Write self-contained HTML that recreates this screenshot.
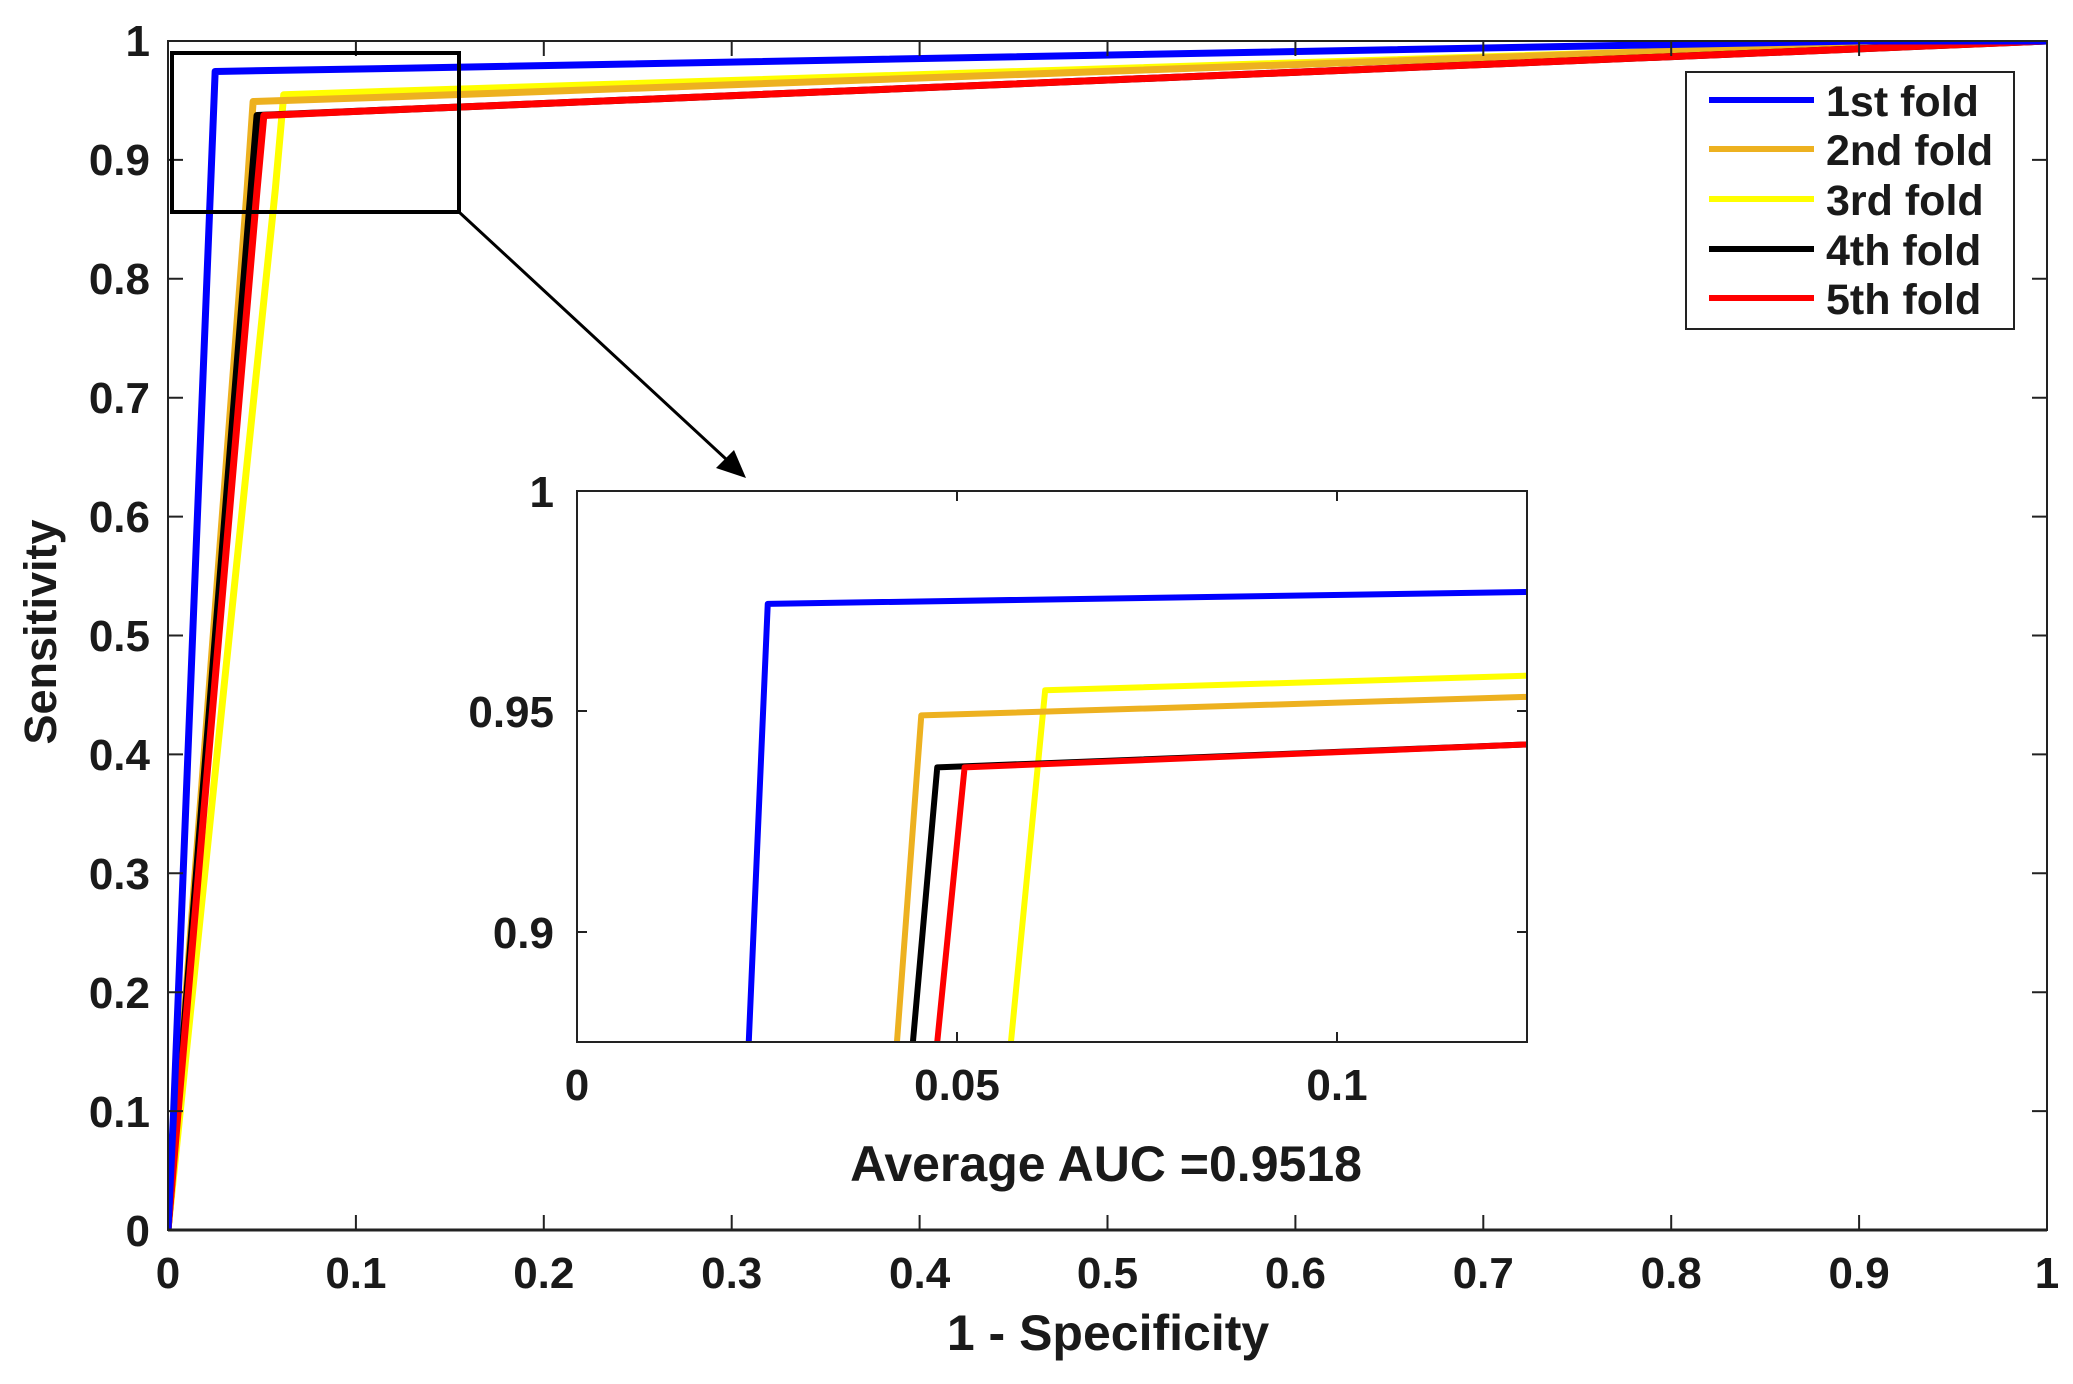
<!DOCTYPE html>
<html><head><style>
html,body{margin:0;padding:0;background:#fff;}
svg text{font-family:"Liberation Sans",Arial,sans-serif;font-weight:bold;fill:#1a1a1a;}
</style></head><body>
<svg width="2073" height="1379" xmlns="http://www.w3.org/2000/svg">
<rect width="2073" height="1379" fill="#fff"/>
<svg x="168" y="41" width="1879" height="1189" viewBox="0 -1 1 1" preserveAspectRatio="none" overflow="hidden">
 <g fill="none" stroke-linejoin="round">
  <polyline vector-effect="non-scaling-stroke" stroke-width="7" stroke="#ffff00" points="0,0 0.0571,-0.875 0.0616,-0.9548 0.125,-0.9581 0.97,-1 1,-1"/>
  <polyline vector-effect="non-scaling-stroke" stroke-width="7" stroke="#edb120" points="0,0 0.0421,-0.875 0.0453,-0.9491 0.125,-0.9533 0.95,-1 1,-1"/>
  <polyline vector-effect="non-scaling-stroke" stroke-width="7" stroke="#000" points="0,0 0.0442,-0.875 0.0474,-0.9373 0.125,-0.9425 1,-1"/>
  <polyline vector-effect="non-scaling-stroke" stroke-width="7" stroke="#ff0000" points="0,0 0.0474,-0.875 0.051,-0.9373 0.125,-0.9425 1,-1"/>
  <polyline vector-effect="non-scaling-stroke" stroke-width="7" stroke="#0000ff" points="0,0 0.003,-0.1 0.0226,-0.875 0.0251,-0.9744 0.125,-0.9771 0.9,-1 1,-1"/>
 </g>
</svg>
<rect x="168" y="41" width="1879" height="1189" fill="none" stroke="#222" stroke-width="2"/>
<line x1="168" y1="1230" x2="2047" y2="1230" stroke="#222" stroke-width="3"/>
<g stroke="#222" stroke-width="2">
 <path d="M355.9,1230v-15M543.8,1230v-15M731.7,1230v-15M919.6,1230v-15M1107.5,1230v-15M1295.4,1230v-15M1483.3,1230v-15M1671.2,1230v-15M1859.1,1230v-15
 M355.9,41v15M543.8,41v15M731.7,41v15M919.6,41v15M1107.5,41v15M1295.4,41v15M1483.3,41v15M1671.2,41v15M1859.1,41v15"/>
 <path d="M168,1111.1h15M168,992.2h15M168,873.3h15M168,754.4h15M168,635.5h15M168,516.6h15M168,397.7h15M168,278.8h15M168,159.9h15
 M2047,1111.1h-15M2047,992.2h-15M2047,873.3h-15M2047,754.4h-15M2047,635.5h-15M2047,516.6h-15M2047,397.7h-15M2047,278.8h-15M2047,159.9h-15"/>
</g>
<g font-size="44" text-anchor="middle">
 <text x="168" y="1288">0</text><text x="355.9" y="1288">0.1</text><text x="543.8" y="1288">0.2</text><text x="731.7" y="1288">0.3</text><text x="919.6" y="1288">0.4</text><text x="1107.5" y="1288">0.5</text><text x="1295.4" y="1288">0.6</text><text x="1483.3" y="1288">0.7</text><text x="1671.2" y="1288">0.8</text><text x="1859.1" y="1288">0.9</text><text x="2047" y="1288">1</text>
</g>
<g font-size="44" text-anchor="end">
 <text x="150" y="1246">0</text><text x="150" y="1127">0.1</text><text x="150" y="1008">0.2</text><text x="150" y="889">0.3</text><text x="150" y="770">0.4</text><text x="150" y="651">0.5</text><text x="150" y="532">0.6</text><text x="150" y="413">0.7</text><text x="150" y="294">0.8</text><text x="150" y="175">0.9</text><text x="150" y="56">1</text>
</g>
<text x="1108" y="1350" font-size="50" text-anchor="middle">1 - Specificity</text>
<text transform="translate(56,632) rotate(-90)" font-size="45" text-anchor="middle">Sensitivity</text>
<text x="1106" y="1181" font-size="50" text-anchor="middle">Average AUC =0.9518</text>
<rect x="172" y="53" width="287" height="159" fill="none" stroke="#000" stroke-width="4"/>
<line x1="459" y1="212" x2="740" y2="472" stroke="#000" stroke-width="3"/>
<path d="M746,478 L716,468 L734,450 Z" fill="#000"/>
<rect x="1686" y="72" width="328" height="257" fill="#fff" stroke="#222" stroke-width="2"/>
<g stroke-width="6">
 <line x1="1709" y1="100" x2="1814" y2="100" stroke="#0000ff"/>
 <line x1="1709" y1="149" x2="1814" y2="149" stroke="#edb120"/>
 <line x1="1709" y1="199" x2="1814" y2="199" stroke="#ffff00"/>
 <line x1="1709" y1="249" x2="1814" y2="249" stroke="#000"/>
 <line x1="1709" y1="298" x2="1814" y2="298" stroke="#ff0000"/>
</g>
<g font-size="43" fill="#000">
 <text x="1826" y="116">1st fold</text><text x="1826" y="165">2nd fold</text><text x="1826" y="215">3rd fold</text><text x="1826" y="265">4th fold</text><text x="1826" y="314">5th fold</text>
</g>
<rect x="577" y="491" width="950" height="551" fill="#fff"/>
<svg x="577" y="491" width="950" height="551" viewBox="0 -1 0.125 0.125" preserveAspectRatio="none" overflow="hidden">
 <g fill="none" stroke-linejoin="round">
  <polyline vector-effect="non-scaling-stroke" stroke-width="6" stroke="#ffff00" points="0.0571,-0.875 0.0616,-0.9548 0.125,-0.9581"/>
  <polyline vector-effect="non-scaling-stroke" stroke-width="6" stroke="#edb120" points="0.0421,-0.875 0.0453,-0.9491 0.125,-0.9533"/>
  <polyline vector-effect="non-scaling-stroke" stroke-width="6" stroke="#000" points="0.0442,-0.875 0.0474,-0.9373 0.125,-0.9425"/>
  <polyline vector-effect="non-scaling-stroke" stroke-width="6" stroke="#ff0000" points="0.0474,-0.875 0.051,-0.9373 0.125,-0.9425"/>
  <polyline vector-effect="non-scaling-stroke" stroke-width="6" stroke="#0000ff" points="0.0226,-0.875 0.0251,-0.9744 0.125,-0.9771"/>
 </g>
</svg>
<rect x="577" y="491" width="950" height="551" fill="none" stroke="#222" stroke-width="2"/>
<g stroke="#222" stroke-width="2">
 <path d="M957,1042v-10M1337,1042v-10M957,491v10M1337,491v10M577,932h10M577,711h10M1527,932h-10M1527,711h-10"/>
</g>
<g font-size="44" text-anchor="middle">
 <text x="577" y="1100">0</text><text x="957" y="1100">0.05</text><text x="1337" y="1100">0.1</text>
</g>
<g font-size="44" text-anchor="end">
 <text x="554" y="507">1</text><text x="554" y="727">0.95</text><text x="554" y="948">0.9</text>
</g>
</svg>
</body></html>
